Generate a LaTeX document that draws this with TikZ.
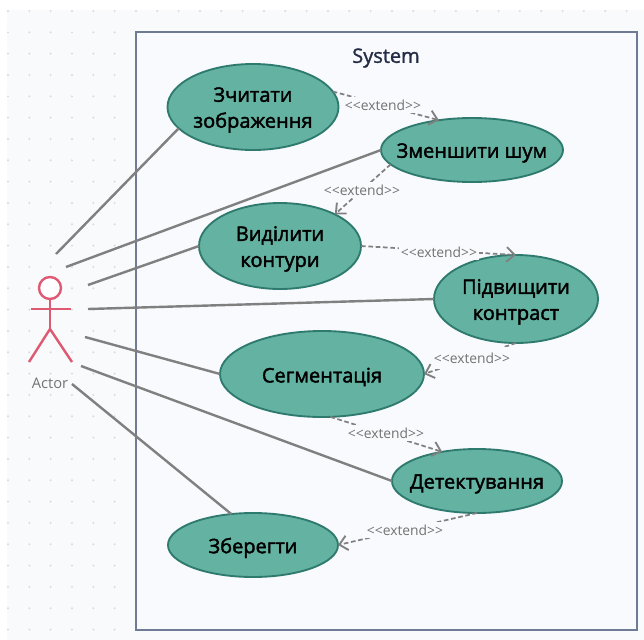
\documentclass[tikz,border=0pt]{standalone}
\usepackage{fontspec}
\setmainfont{Open Sans}
\newcommand{\heavytxt}[2]{\special{pdf:code q 2 Tr #1 w}#2\special{pdf:code 0 Tr Q}}
\usetikzlibrary{shapes.geometric,arrows.meta}
\definecolor{pagebg}{HTML}{F9FAFC}
\definecolor{sysbg}{HTML}{F8FAFD}
\definecolor{sysline}{HTML}{6F7A95}
\definecolor{dotc}{HTML}{D8D9DF}
\definecolor{ucfill}{HTML}{64B3A2}
\definecolor{ucline}{HTML}{2F7A6E}
\definecolor{conn}{HTML}{808080}
\definecolor{actorc}{HTML}{DE5A72}
\definecolor{titlec}{HTML}{232B45}
\tikzset{
  uc/.style n args={3}{draw=ucline,line width=1.4pt,fill=ucfill,ellipse,inner sep=0pt,outer sep=0pt,
    minimum width=#1*0.75pt,minimum height=#2*0.75pt,
    label={[uctext]center:{#3}}},
  uctext/.style={align=center,text=black,yshift=-2.2pt,inner sep=0pt,
    font=\fontsize{15}{19.5}\selectfont},
  assoc/.style={draw=conn,line width=1.8pt},
  ext/.style={draw=conn,line width=1.3pt,dash pattern=on 3.5pt off 2pt,
    -{Straight Barb[length=6pt,width=11pt,line width=1.4pt]}},
  extlabel/.style={fill=sysbg,inner sep=0pt,minimum width=60pt,minimum height=12pt,text=black!55,
    font=\fontsize{10.4}{12}\selectfont},
  limb/.style={draw=actorc,line width=1.8pt},
}
\begin{document}
\begin{tikzpicture}[x=0.75pt,y=-0.75pt]
\useasboundingbox (0,0) rectangle (644,640);
\fill[white] (0,0) rectangle (644,640);
\fill[pagebg] (7,10) rectangle (644,640);
\foreach \i in {0,...,29}{\foreach \j in {0,...,29}{
  \fill[dotc] ({8+21.33*\i},{11+21.33*\j}) circle (0.8pt);}}
\node[draw=sysline,line width=1.9pt,fill=sysbg,minimum width=501*0.75pt,minimum height=598*0.75pt,inner sep=0pt,outer sep=0pt] (sys) at (386.5,331) {};
\node[text=titlec,font=\fontsize{15}{18}\selectfont] (systitle) at (386,58) {\heavytxt{0.2}{System}};

% actor
\node[circle,draw=actorc,line width=1.8pt,fill=white,minimum size=22*0.75pt,inner sep=0pt,outer sep=0pt] (head) at (50,288) {};
\coordinate (hip) at (50,329);
\coordinate (armL) at (31,309);
\coordinate (armR) at (71,309);
\coordinate (legL) at (29,362);
\coordinate (legR) at (72,362);
\draw[limb] (head.south) -- (hip);
\draw[limb] (armL) -- (armR);
\draw[limb,line join=miter] (legL) -- (hip) -- (legR);
\node[text=black!55,font=\fontsize{11}{13}\selectfont] (actor) at (50,383) {Actor};

% association free ends near the actor
\coordinate (a1) at (56,254);
\coordinate (a2) at (66,267);
\coordinate (a3) at (88,285);
\coordinate (a4) at (88,309);
\coordinate (a5) at (85,337);
\coordinate (a6) at (81,366);
\coordinate (a7) at (72,384);

% use cases
\node[uc={171}{86}{\heavytxt{0.3}{Зчитати}\\\heavytxt{0.3}{зображення}}] (e1) at (253,107) {};
\node[uc={182}{64}{\heavytxt{0.3}{Зменшити шум}}] (e2) at (472,150) {};
\node[uc={162}{86}{\heavytxt{0.3}{Виділити}\\\heavytxt{0.3}{контури}}] (e3) at (280,246) {};
\node[uc={164}{88}{\heavytxt{0.3}{Підвищити}\\\heavytxt{0.3}{контраст}}] (e4) at (516,299) {};
\node[uc={204}{86}{\heavytxt{0.3}{Сегментація}}] (e5) at (322,374) {};
\node[uc={170}{64}{\heavytxt{0.3}{Детектування}}] (e6) at (477,481) {};
\node[uc={170}{64}{\heavytxt{0.3}{Зберегти}}] (e7) at (253,545) {};

\draw[assoc] (a1) -- (e1.196);
\draw[assoc] (a2) -- (e2.180);
\draw[assoc] (a3) -- (e3.180);
\draw[assoc] (a4) -- (e4.180);
\draw[assoc] (a5) -- (e5.180);
\draw[assoc] (a6) -- (e6.180);
\draw[assoc] (a7) -- (e7.125);

% extend relations
\draw[ext] (e1.11) -- (e2.138);
\node[extlabel] (x1) at (383,105) {<{}<extend>{}>};
\draw[ext] (e2.190) -- (e3.30);
\node[extlabel] (x2) at (362,190) {<{}<extend>{}>};
\draw[ext] (e3.0) -- (e4.90);
\node[extlabel] (x3) at (439,252) {<{}<extend>{}>};
\draw[ext] (e4.270) -- (e5.0);
\node[extlabel,minimum height=17pt] (x4) at (472,358) {<{}<extend>{}>};
\draw[ext] (e5.281) -- (e6.140);
\node[extlabel] (x5) at (386,433) {<{}<extend>{}>};
\draw[ext] (e6.270) -- (e7.0);
\node[extlabel] (x6) at (405,530) {<{}<extend>{}>};
\end{tikzpicture}
\end{document}
